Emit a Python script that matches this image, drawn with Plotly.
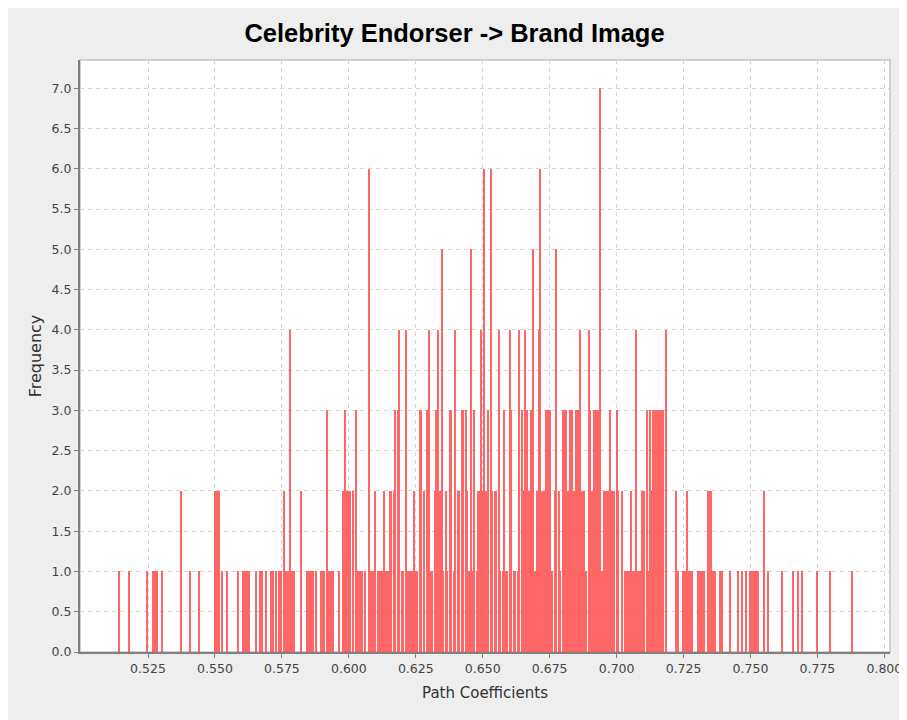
import plotly.graph_objects as go

# Bootstrap histogram: bin centre (path coefficient) and frequency
path_coefficients = [
    0.5142, 0.5179, 0.5246, 0.5269, 0.5276, 0.5284, 0.5302, 0.5373, 0.5407, 0.5440,
    0.5500, 0.5507, 0.5515, 0.5526, 0.5545, 0.5586, 0.5604, 0.5612, 0.5619, 0.5627,
    0.5653, 0.5668, 0.5675, 0.5690, 0.5709, 0.5716, 0.5728, 0.5739, 0.5746, 0.5757,
    0.5765, 0.5772, 0.5780, 0.5787, 0.5795, 0.5821, 0.5843, 0.5851, 0.5858, 0.5866,
    0.5877, 0.5896, 0.5903, 0.5910, 0.5918, 0.5925, 0.5933, 0.5940, 0.5966,
    0.5978, 0.5985, 0.5993, 0.6000, 0.6007, 0.6015, 0.6026, 0.6034, 0.6041, 0.6049,
    0.6063, 0.6075, 0.6082, 0.6090, 0.6097, 0.6108, 0.6116, 0.6123, 0.6131, 0.6138,
    0.6146, 0.6153, 0.6160, 0.6168, 0.6175, 0.6183, 0.6190, 0.6198, 0.6205, 0.6213,
    0.6220, 0.6228, 0.6235, 0.6243, 0.6250, 0.6257, 0.6265, 0.6272, 0.6280, 0.6291,
    0.6299,
    0.6306, 0.6313, 0.6321, 0.6328, 0.6334, 0.6340, 0.6349, 0.6354, 0.6362, 0.6369,
    0.6377, 0.6384, 0.6392, 0.6399, 0.6407, 0.6414, 0.6422, 0.6429, 0.6437, 0.6444,
    0.6451, 0.6457, 0.6463, 0.6470, 0.6478, 0.6483, 0.6489, 0.6494, 0.6500, 0.6507,
    0.6515, 0.6522, 0.6530, 0.6537, 0.6545, 0.6552, 0.6560, 0.6567, 0.6575, 0.6580,
    0.6586, 0.6593, 0.6601, 0.6608, 0.6616, 0.6623, 0.6631, 0.6638,
    0.6646, 0.6653, 0.6660, 0.6668, 0.6675, 0.6683, 0.6690, 0.6698, 0.6705, 0.6711,
    0.6716, 0.6724, 0.6731, 0.6739, 0.6746, 0.6754, 0.6761, 0.6769, 0.6776, 0.6784,
    0.6791, 0.6799, 0.6806, 0.6813, 0.6821, 0.6828, 0.6836, 0.6843, 0.6851, 0.6858,
    0.6866, 0.6873, 0.6881, 0.6888, 0.6896, 0.6903, 0.6910, 0.6918, 0.6925, 0.6933,
    0.6940, 0.6948, 0.6955, 0.6963, 0.6970,
    0.6978, 0.6985, 0.6993, 0.7002, 0.7007, 0.7021, 0.7034, 0.7041, 0.7049, 0.7054,
    0.7060, 0.7067, 0.7075, 0.7082, 0.7090, 0.7097, 0.7104, 0.7114, 0.7119, 0.7125,
    0.7131, 0.7138, 0.7146, 0.7153, 0.7160, 0.7168, 0.7175, 0.7185,
    0.7222, 0.7231, 0.7250, 0.7257, 0.7263, 0.7269, 0.7276, 0.7284, 0.7306,
    0.7313, 0.7321, 0.7328, 0.7341, 0.7347, 0.7354, 0.7362, 0.7369, 0.7388, 0.7396,
    0.7425, 0.7455, 0.7470, 0.7485, 0.7500, 0.7507, 0.7515, 0.7522, 0.7530, 0.7552,
    0.7567, 0.7619, 0.7660, 0.7677, 0.7694, 0.7750, 0.7799, 0.7881,
]
frequencies = [
    1, 1, 1, 1, 1, 1, 1, 2, 1, 1,
    2, 2, 2, 1, 1, 1, 1, 1, 1, 1,
    1, 1, 1, 1, 1, 1, 1, 1, 1, 2,
    1, 1, 4, 1, 1, 2, 1, 1, 1, 1,
    1, 1, 1, 1, 3, 1, 1, 1, 1,
    2, 3, 2, 2, 2, 2, 3, 1, 1, 1,
    1, 6, 1, 1, 2, 1, 1, 1, 2, 1,
    1, 2, 2, 2, 3, 3, 4, 1, 1, 4,
    1, 1, 1, 2, 1, 1, 3, 3, 2, 3,
    4,
    1, 1, 2, 3, 4, 2, 5, 1, 2, 1,
    3, 3, 1, 4, 2, 2, 3, 3, 3, 2,
    1, 5, 1, 3, 1, 2, 2, 4, 2, 6,
    2, 3, 6, 2, 2, 2, 4, 1, 1, 3,
    1, 1, 4, 3, 1, 1, 1, 4,
    3, 2, 4, 3, 2, 3, 5, 1, 2, 4,
    6, 2, 2, 3, 3, 3, 1, 2, 5, 2,
    1, 3, 3, 3, 2, 3, 3, 2, 3, 3,
    4, 2, 2, 1, 4, 3, 2, 3, 3, 3,
    7, 1, 2, 2, 2,
    3, 2, 2, 3, 2, 2, 1, 1, 1, 2,
    1, 1, 4, 1, 1, 2, 2, 3, 1, 3,
    2, 3, 3, 3, 3, 3, 3, 4,
    2, 1, 1, 1, 2, 1, 1, 1, 1,
    1, 1, 1, 2, 2, 2, 1, 1, 1, 1,
    1, 1, 1, 1, 1, 1, 1, 1, 1, 2,
    1, 1, 1, 1, 1, 1, 1, 1,
]

x_tick_values = [0.525, 0.550, 0.575, 0.600, 0.625, 0.650, 0.675, 0.700,
                 0.725, 0.750, 0.775, 0.800]
x_tick_labels = ["0.525", "0.550", "0.575", "0.600", "0.625", "0.650", "0.675",
                 "0.700", "0.725", "0.750", "0.775", "0.800"]
y_tick_values = [0.0, 0.5, 1.0, 1.5, 2.0, 2.5, 3.0, 3.5, 4.0, 4.5, 5.0, 5.5,
                 6.0, 6.5, 7.0]
y_tick_labels = ["0.0", "0.5", "1.0", "1.5", "2.0", "2.5", "3.0", "3.5", "4.0",
                 "4.5", "5.0", "5.5", "6.0", "6.5", "7.0"]

bin_width = 0.00056

fig = go.Figure(
    go.Bar(
        x=path_coefficients,
        y=frequencies,
        width=bin_width,
        marker=dict(color="#ff4d4d", line=dict(width=0)),
        opacity=0.85,
        showlegend=False,
    )
)

tick_font = dict(family="DejaVu Sans", size=12.5, color="#444444")

fig.update_layout(
    width=899,
    height=712,
    margin=dict(l=72, r=16.5, t=52, b=68, autoexpand=False),
    paper_bgcolor="#eeeeee",
    plot_bgcolor="#ffffff",
    bargap=0,
    title=dict(
        text="Celebrity Endorser -> Brand Image",
        x=0.4967,
        xanchor="center",
        xref="container",
        y=1 - 25 / 712,
        yanchor="middle",
        yref="container",
        font=dict(family="Liberation Sans Narrow, Arial Narrow, Liberation Sans",
                  size=25.5, color="#000000", weight="bold"),
    ),
    xaxis=dict(
        range=[0.4996, 0.8021],
        automargin=False,
        tickvals=x_tick_values,
        ticktext=x_tick_labels,
        ticks="outside",
        ticklen=4,
        tickcolor="#808080",
        showline=True,
        linecolor="#808080",
        linewidth=2,
        showgrid=True,
        gridcolor="#d4d4d4",
        griddash="4px,4px",
        gridwidth=1,
        zeroline=False,
        tickfont=tick_font,
        title=dict(text="Path Coefficients",
                   font=dict(family="DejaVu Sans", size=15, color="#333333"),
                   standoff=12),
    ),
    yaxis=dict(
        range=[0, 7.35],
        automargin=False,
        tickvals=y_tick_values,
        ticktext=y_tick_labels,
        ticks="outside",
        ticklen=4,
        tickcolor="#808080",
        showline=True,
        linecolor="#808080",
        linewidth=2,
        showgrid=True,
        gridcolor="#d4d4d4",
        griddash="4px,4px",
        gridwidth=1,
        zeroline=False,
        tickfont=tick_font,
        title=dict(text="Frequency",
                   font=dict(family="DejaVu Sans", size=16, color="#333333"),
                   standoff=6),
    ),
    shapes=[
        dict(type="rect", xref="paper", yref="paper", x0=0, x1=1, y0=0, y1=1,
             line=dict(color="#c4c4c4", width=1.5), layer="below"),
    ],
)

fig.write_html(
    "out.html",
    post_script="document.documentElement.style.overflow='hidden';"
                "document.body.style.overflow='hidden';",
)
